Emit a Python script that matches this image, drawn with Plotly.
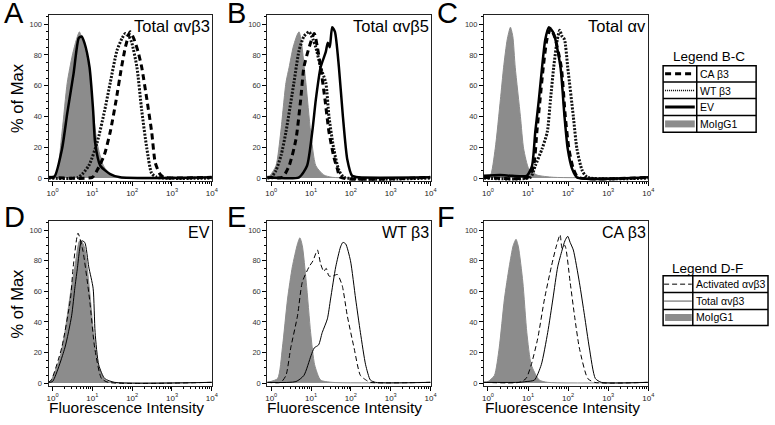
import plotly.graph_objects as go

# ---------------- data (x in log10 decades, y in % of max) ----------------
A_IGG_X = [-0.1, 0.08, 0.24, 0.37, 0.5, 0.6, 0.675, 0.75, 0.91, 0.99, 1.12, 1.28, 1.53, 4.0]
A_IGG_Y = [0.5, 1, 30, 62, 80, 90, 95, 90, 72, 51, 23, 8, 1, 0.5]
A_EV_X = [-0.1, 0.05, 0.24, 0.37, 0.53, 0.66, 0.73, 0.8, 0.93, 1.02, 1.07, 1.2, 1.45, 1.7, 4.0]
A_EV_Y = [0.5, 1, 19, 42, 68, 91, 92, 88, 72, 44, 23, 8, 2.6, 0.5, 0.5]
A_WT_X = [-0.1, 0.65, 0.91, 1.12, 1.31, 1.45, 1.62, 1.75, 1.83, 1.92, 1.99, 2.12, 2.24, 2.37, 2.49, 2.62, 4.0]
A_WT_Y = [0, 0.5, 8, 23, 44, 62, 83, 91, 94, 92, 88, 72, 44, 19, 3, 0.5, 0]
A_CA_X = [-0.1, 1.0, 1.12, 1.3, 1.45, 1.6, 1.72, 1.83, 1.95, 2.05, 2.15, 2.24, 2.37, 2.49, 2.58, 2.7, 2.8, 4.0]
A_CA_Y = [0.5, 0.5, 5, 15, 30, 51, 70, 85, 95, 90, 82, 72, 51, 30, 10, 2.5, 0.5, 0.5]

B_IGG_X = [-0.1, -0.05, 0.12, 0.24, 0.37, 0.45, 0.55, 0.65, 0.7, 0.76, 0.87, 0.99, 1.12, 1.32, 1.53, 4.0]
B_IGG_Y = [0.5, 1, 8, 30, 62, 72, 85, 93, 95, 88, 62, 30, 8, 2, 0.5, 0.5]
B_WT_X = [-0.1, 0.0, 0.12, 0.25, 0.37, 0.57, 0.7, 0.82, 0.95, 1.05, 1.12, 1.24, 1.37, 1.45, 1.57, 1.7, 1.83, 4.0]
B_WT_Y = [0, 0.5, 5, 15, 30, 62, 83, 92, 95, 90, 85, 72, 62, 40, 19, 5, 0.5, 0]
B_CA_X = [-0.1, 0.28, 0.45, 0.62, 0.74, 0.82, 0.93, 1.08, 1.16, 1.24, 1.35, 1.45, 1.57, 1.66, 1.74, 4.0]
B_CA_Y = [0.5, 0.5, 8, 25, 51, 72, 83, 94, 85, 72, 51, 30, 14, 6, 0.5, 0.5]
B_EV_X = [-0.1, 0.7, 0.9, 1.03, 1.12, 1.24, 1.37, 1.42, 1.47, 1.53, 1.6, 1.7, 1.8, 1.91, 2.03, 2.2, 4.0]
B_EV_Y = [0.5, 0.5, 8, 30, 51, 72, 82, 88, 85, 98, 95, 72, 40, 12, 1.5, 0.5, 0.5]

C_IGG_X = [-0.1, 0.05, 0.18, 0.31, 0.39, 0.48, 0.56, 0.62, 0.68, 0.81, 0.89, 1.02, 1.22, 1.64, 4.0]
C_IGG_Y = [1, 1, 19, 51, 72, 90, 98, 92, 72, 40, 19, 6, 2, 0.5, 0.5]
C_EV_X = [-0.1, 0.3, 0.6, 0.97, 1.1, 1.18, 1.27, 1.35, 1.43, 1.52, 1.64, 1.81, 1.91, 1.99, 2.1, 2.22, 4.0]
C_EV_Y = [1.5, 2, 1.5, 1.5, 8, 30, 51, 72, 90, 98, 94, 72, 40, 19, 6, 0.5, 0.5]
C_CA_X = [-0.1, 1.0, 1.14, 1.22, 1.3, 1.38, 1.47, 1.56, 1.66, 1.83, 1.93, 2.02, 2.13, 2.25, 4.0]
C_CA_Y = [0.5, 0.5, 8, 30, 51, 72, 90, 97, 92, 72, 40, 19, 6, 0.5, 0.5]
C_WT_X = [-0.1, 1.06, 1.18, 1.35, 1.48, 1.56, 1.64, 1.73, 1.79, 1.85, 1.91, 1.99, 2.13, 2.22, 2.35, 2.48, 4.0]
C_WT_Y = [0, 0.5, 8, 19, 30, 51, 72, 90, 96, 92, 90, 72, 40, 19, 5, 0.5, 0]

D_IGG_X = [-0.1, -0.03, 0.18, 0.31, 0.43, 0.56, 0.68, 0.75, 0.81, 0.91, 1.03, 1.14, 1.31, 1.46, 4.0]
D_IGG_Y = [0.5, 2, 16, 33, 55, 76, 93, 92, 88, 66, 33, 12, 2, 0.5, 0.5]
D_ACT_X = [-0.1, -0.03, 0.23, 0.45, 0.52, 0.64, 0.76, 0.93, 1.06, 1.23, 1.4, 4.0]
D_ACT_Y = [0.5, 2, 23, 55, 76, 98, 87, 55, 23, 3, 0.5, 0.5]
D_TOT_X = [-0.1, 0.0, 0.31, 0.48, 0.56, 0.62, 0.73, 0.81, 0.91, 1.02, 1.07, 1.16, 1.31, 1.56, 4.0]
D_TOT_Y = [0.5, 1, 23, 44, 62, 74, 93, 92, 76, 62, 33, 12, 3, 0.5, 0.5]

E_IGG_X = [-0.1, 0.16, 0.28, 0.41, 0.53, 0.66, 0.72, 0.78, 0.88, 0.99, 1.09, 1.24, 1.53, 4.0]
E_IGG_Y = [0.5, 3, 23, 55, 76, 91, 95, 90, 66, 33, 12, 2, 0.5, 0.5]
E_ACT_X = [-0.1, 0.24, 0.37, 0.49, 0.66, 0.78, 0.95, 1.05, 1.16, 1.24, 1.32, 1.38, 1.45, 1.55, 1.66, 1.78, 1.91, 2.08, 2.24, 2.41, 2.49, 4.0]
E_ACT_Y = [0.5, 0.5, 5, 23, 44, 66, 76, 80, 87, 78, 73, 75, 70, 70, 71, 64, 44, 23, 5, 1.5, 0.5, 0.5]
E_TOT_X = [-0.1, 0.62, 0.82, 1.0, 1.08, 1.19, 1.28, 1.41, 1.49, 1.62, 1.74, 1.8, 1.87, 1.99, 2.12, 2.24, 2.37, 2.49, 2.62, 4.0]
E_TOT_Y = [0.5, 1, 5, 18, 23, 25, 33, 42, 55, 76, 89, 92, 91, 80, 55, 33, 12, 2, 0.5, 0.5]

F_IGG_X = [-0.1, 0.0, 0.16, 0.28, 0.41, 0.53, 0.63, 0.7, 0.76, 0.87, 0.97, 1.08, 1.28, 1.49, 4.0]
F_IGG_Y = [0.5, 1, 5, 23, 55, 76, 90, 94, 89, 66, 33, 12, 2, 0.5, 0.5]
F_ACT_X = [-0.1, 0.78, 0.95, 1.08, 1.24, 1.41, 1.58, 1.7, 1.8, 1.85, 1.92, 2.05, 2.16, 2.28, 2.49, 2.66, 4.0]
F_ACT_Y = [0.5, 0.5, 3, 12, 29, 55, 76, 89, 97, 88, 90, 66, 44, 23, 3, 0.5, 0.5]
F_TOT_X = [-0.1, 0.78, 0.95, 1.16, 1.33, 1.49, 1.62, 1.74, 1.85, 1.92, 1.99, 2.05, 2.13, 2.28, 2.41, 2.53, 2.68, 2.83, 4.0]
F_TOT_Y = [0.5, 0.5, 1, 2, 12, 33, 55, 76, 87, 93, 96, 92, 87, 66, 44, 23, 3, 0.5, 0.5]

PANEL_LETTERS = ["A", "B", "C", "D", "E", "F"]
PANEL_TITLES = ["Total αvβ3", "Total αvβ5", "Total αv", "EV", "WT β3", "CA β3"]
X_TICK_VALS = [1, 10, 100, 1000, 10000]
X_TICK_TEXT = ["10<sup>0</sup>", "10<sup>1</sup>", "10<sup>2</sup>", "10<sup>3</sup>", "10<sup>4</sup>"]
Y_TICK_VALS = [0, 20, 40, 60, 80, 100]
LEGEND_BC = ["CA β3", "WT β3", "EV", "MoIgG1"]
LEGEND_DF = ["Activated αvβ3", "Total αvβ3", "MoIgG1"]

# ---------------- layout geometry (pixels) ----------------
W, H = 775, 425
FONT = "Liberation Sans, Arial, sans-serif"
GRAY = "#8c8c8c"
COLS = [(47, 212), (268, 433), (487, 653)]
ROWS = [(15, 182), (222, 388)]


def fx(x):
    return x / W


def fy(y):
    return 1 - y / H


fig = go.Figure()

MINOR = [m * 10 ** d for d in range(4) for m in range(2, 10)]


def lx(v):
    return [10 ** t for t in v]


def add_gray(ax, X, Y):
    fig.add_trace(go.Scatter(x=lx(X), y=Y, mode="lines", fill="tozeroy",
                             line=dict(color=GRAY, width=1, shape="spline", smoothing=0.6),
                             fillcolor=GRAY, xaxis="x" + ax, yaxis="y" + ax, showlegend=False,
                             hoverinfo="skip"))


def add_line(ax, X, Y, width, dash, color="black"):
    fig.add_trace(go.Scatter(x=lx(X), y=Y, mode="lines",
                             line=dict(color=color, width=width, dash=dash, shape="spline", smoothing=0.6),
                             xaxis="x" + ax, yaxis="y" + ax, showlegend=False, hoverinfo="skip"))


# Row 1 (legend B-C styles)
for ax, igg, wt, ca, ev in [
    ("", (A_IGG_X, A_IGG_Y), (A_WT_X, A_WT_Y), (A_CA_X, A_CA_Y), (A_EV_X, A_EV_Y)),
    ("2", (B_IGG_X, B_IGG_Y), (B_WT_X, B_WT_Y), (B_CA_X, B_CA_Y), (B_EV_X, B_EV_Y)),
    ("3", (C_IGG_X, C_IGG_Y), (C_WT_X, C_WT_Y), (C_CA_X, C_CA_Y), (C_EV_X, C_EV_Y)),
]:
    add_gray(ax, *igg)
    add_line(ax, *wt, 3, "2px,1.5px", "#111")
    add_line(ax, *ca, 3, "6px,4px")
    add_line(ax, *ev, 2.5, "solid")

# Row 2 (legend D-F styles)
for ax, igg, act, tot in [
    ("4", (D_IGG_X, D_IGG_Y), (D_ACT_X, D_ACT_Y), (D_TOT_X, D_TOT_Y)),
    ("5", (E_IGG_X, E_IGG_Y), (E_ACT_X, E_ACT_Y), (E_TOT_X, E_TOT_Y)),
    ("6", (F_IGG_X, F_IGG_Y), (F_ACT_X, F_ACT_Y), (F_TOT_X, F_TOT_Y)),
]:
    add_gray(ax, *igg)
    add_line(ax, *act, 1, "5px,3px")
    add_line(ax, *tot, 1, "solid")

layout = dict(width=W, height=H, margin=dict(l=0, r=0, t=0, b=0),
              paper_bgcolor="white", plot_bgcolor="white",
              font=dict(family=FONT, color="black"), showlegend=False)

annotations = []
shapes = []


def ann(text, x, y, size, xanchor="center", yanchor="middle", angle=0):
    annotations.append(dict(text=text, x=fx(x), y=fy(y), xref="paper", yref="paper",
                            xanchor=xanchor, yanchor=yanchor, textangle=angle,
                            showarrow=False, borderpad=0, font=dict(size=size, family=FONT)))


for i in range(6):
    r, c = divmod(i, 3)
    n = "" if i == 0 else str(i + 1)
    x0, x1 = COLS[c]
    y0, y1 = ROWS[r]
    layout["xaxis" + n] = dict(
        domain=[fx(x0), fx(x1)], anchor="y" + n, type="log", range=[-0.1, 4.0],
        tickmode="array", tickvals=X_TICK_VALS, ticktext=X_TICK_TEXT,
        ticks="outside", ticklen=4, tickcolor="black", tickwidth=1,
        tickfont=dict(size=8, color="#222"),
        minor=dict(tickvals=MINOR, ticks="outside", ticklen=2, tickcolor="black"),
        showgrid=False, zeroline=False, showline=True, linecolor="#222", linewidth=1, mirror=True,
    )
    layout["yaxis" + n] = dict(
        domain=[fy(y1), fy(y0)], anchor="x" + n, range=[-2, 106],
        tickmode="array", tickvals=Y_TICK_VALS, ticks="outside", ticklen=4,
        tickcolor="black", tickwidth=1, tickfont=dict(size=7.5, color="#333"),
        minor=dict(dtick=5, ticks="outside", ticklen=2, tickcolor="black"),
        showgrid=False, zeroline=False, showline=True, linecolor="#222", linewidth=1, mirror=True,
    )
    # panel letter
    ann(PANEL_LETTERS[i], [1, 226, 439][c], [13.5, 218][r], 29, xanchor="left")
    # panel title
    ann(PANEL_TITLES[i], x1 - 1, y0 + 11.5, 16.5 if r == 0 else 16, xanchor="right")

# axis titles
for yc in [98.5, 305]:
    ann("% of Max", 15, yc, 16.5, angle=-90)
for (x0, x1) in COLS:
    ann("Fluorescence Intensity", (x0 + x1) / 2 - 4, 409, 15.5)


def pline(xa, ya, xb, yb, width=1.5, color="black", dash="solid"):
    shapes.append(dict(type="line", xref="paper", yref="paper", x0=fx(xa), x1=fx(xb),
                       y0=fy(ya), y1=fy(yb), line=dict(color=color, width=width, dash=dash)))


def prect(xa, ya, xb, yb, fill=None, width=1.5, color="black"):
    d = dict(type="rect", xref="paper", yref="paper", x0=fx(xa), x1=fx(xb), y0=fy(yb), y1=fy(ya),
             line=dict(color=color, width=width))
    if fill:
        d["fillcolor"] = fill
    shapes.append(d)


# Legend B-C table
ann("Legend B-C", 714, 57, 13.5)
prect(668, 66, 762, 133)
for yy in [82.5, 99, 116]:
    pline(668, yy, 762, yy)
pline(702, 66, 702, 133)
rows_bc = [74, 91, 107.5, 124.5]
pline(670, rows_bc[0], 700, rows_bc[0], width=3, dash="6px,4px")
pline(670, rows_bc[1], 700, rows_bc[1], width=1.5, dash="1px,1px")
pline(670, rows_bc[2], 700, rows_bc[2], width=3)
prect(670, rows_bc[3] - 3.5, 700, rows_bc[3] + 3.5, fill=GRAY, width=0, color=GRAY)
for lab, yy in zip(LEGEND_BC, rows_bc):
    ann(lab, 704, yy, 10.5, xanchor="left")

# Legend D-F table
ann("Legend D-F", 713, 270, 13.5)
prect(668, 277, 774, 327)
for yy in [294, 311]:
    pline(668, yy, 774, yy)
pline(698, 277, 698, 327)
rows_df = [285.5, 302.5, 319]
pline(669, rows_df[0], 697, rows_df[0], width=1, dash="5px,3px")
pline(669, rows_df[1], 697, rows_df[1], width=1, color="#555")
prect(670, rows_df[2] - 3.5, 697, rows_df[2] + 3.5, fill=GRAY, width=0, color=GRAY)
for lab, yy in zip(LEGEND_DF, rows_df):
    ann(lab, 700, yy, 10.5, xanchor="left")

layout["annotations"] = annotations
layout["shapes"] = shapes
fig.update_layout(**layout)
fig.write_html("out.html", config={"displayModeBar": False, "staticPlot": True},
               post_script="document.body.style.margin='0';document.body.style.overflow='hidden';")
